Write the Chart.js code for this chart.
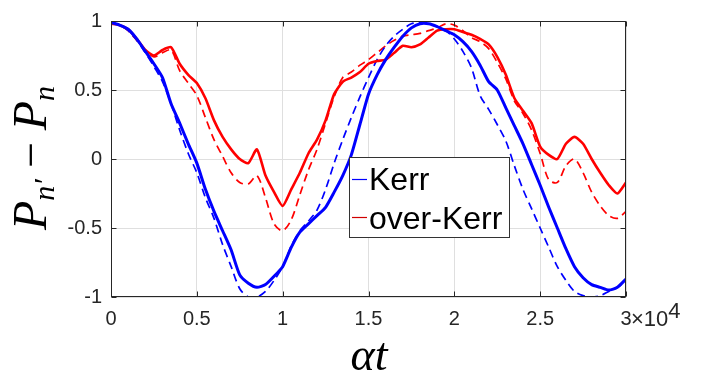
<!DOCTYPE html>
<html lang="en">
<head>
    <meta charset="UTF-8">
    <title>Kerr vs over-Kerr</title>
    <script src="https://cdn.jsdelivr.net/npm/chart.js@4.4.0/dist/chart.umd.min.js"></script>
    <style>
        html, body { margin: 0; padding: 0; background: #fff; }
        #wrap { width: 702px; height: 374px; }
    </style>
</head>
<body>
<div id="wrap"><canvas id="chart"></canvas></div>
<script>
    // time in units of 10^4
    const timeE4 = [
        0, 0.05, 0.1, 0.15, 0.2, 0.25, 0.3, 0.35, 0.4, 0.45,
        0.5, 0.55, 0.6, 0.65, 0.7, 0.75, 0.8, 0.85, 0.9, 0.95,
        1.0, 1.05, 1.1, 1.15, 1.2, 1.25, 1.3, 1.35, 1.4, 1.45,
        1.5, 1.55, 1.6, 1.65, 1.7, 1.75, 1.8, 1.85, 1.9, 1.95,
        2.0, 2.05, 2.1, 2.15, 2.2, 2.25, 2.3, 2.35, 2.4, 2.45,
        2.5, 2.55, 2.6, 2.65, 2.7, 2.75, 2.8, 2.85, 2.9, 2.95, 3.0
    ]
    const kerrSim = [
        0.99, 0.97, 0.94, 0.87, 0.78, 0.69, 0.59, 0.40, 0.26, 0.11,
        -0.03, -0.22, -0.38, -0.52, -0.66, -0.84, -0.90, -0.93, -0.91, -0.85,
        -0.78, -0.64, -0.53, -0.47, -0.41, -0.35, -0.24, -0.12, 0.03, 0.25,
        0.47, 0.61, 0.72, 0.81, 0.89, 0.95, 0.98, 0.98, 0.96, 0.93,
        0.90, 0.85, 0.78, 0.68, 0.56, 0.50, 0.37, 0.24, 0.11, -0.04,
        -0.19, -0.35, -0.50, -0.65, -0.78, -0.86, -0.91, -0.93, -0.95, -0.93, -0.87
    ]
    const kerrTheory = [
        0.99, 0.97, 0.93, 0.86, 0.77, 0.67, 0.56, 0.40, 0.21, 0.04,
        -0.10, -0.28, -0.43, -0.62, -0.78, -0.94, -1.0, -1.0, -0.96, -0.88,
        -0.78, -0.63, -0.52, -0.45, -0.37, -0.22, -0.03, 0.14, 0.30, 0.45,
        0.59, 0.72, 0.82, 0.89, 0.94, 0.98, 0.99, 0.98, 0.96, 0.93,
        0.87, 0.78, 0.66, 0.46, 0.36, 0.25, 0.13, -0.05, -0.22, -0.36,
        -0.50, -0.64, -0.78, -0.88, -0.96, -0.99, -1.0, -0.99, -0.96, -0.93, -0.89
    ]
    const overKerrSim = [
        0.98, 0.97, 0.94, 0.87, 0.79, 0.75, 0.79, 0.81, 0.69, 0.61,
        0.55, 0.44, 0.28, 0.16, 0.07, 0.0, -0.03, 0.07, -0.12, -0.24,
        -0.34, -0.22, -0.10, 0.04, 0.14, 0.28, 0.47, 0.56, 0.59, 0.63,
        0.69, 0.71, 0.72, 0.77, 0.82, 0.81, 0.83, 0.88, 0.93, 0.94,
        0.94, 0.92, 0.90, 0.87, 0.83, 0.74, 0.61, 0.44, 0.35, 0.26,
        0.09, 0.03, 0.0, 0.11, 0.16, 0.11, 0.0, -0.10, -0.19, -0.25, -0.17
    ]
    const overKerrTheory = [
        0.99, 0.97, 0.93, 0.86, 0.79, 0.74, 0.77, 0.79, 0.64, 0.55,
        0.46, 0.30, 0.14, 0.02, -0.10, -0.17, -0.18, -0.12, -0.28, -0.47,
        -0.52, -0.44, -0.26, -0.08, 0.07, 0.26, 0.45, 0.59, 0.63, 0.68,
        0.72, 0.77, 0.82, 0.86, 0.89, 0.90, 0.91, 0.93, 0.95, 0.98,
        0.97, 0.93, 0.88, 0.85, 0.80, 0.70, 0.58, 0.42, 0.33, 0.21,
        0.04, -0.15, -0.17, -0.05, 0.0, -0.10, -0.24, -0.34, -0.41, -0.43, -0.38
    ]
    const xTicks = [0, 0.5, 1, 1.5, 2, 2.5, 3]
    const yTicks = [-1, -0.5, 0, 0.5, 1]

    const BLUE = '#0000ff'
    const RED = '#ff0000'
    const SANS = '"Liberation Sans", Arial, Helvetica, sans-serif'
    const SERIF = '"Liberation Serif", "DejaVu Serif", serif'

    function points(values) {
        return values.map((v, i) => ({x: timeE4[i], y: v}))
    }

    function drawRotatedTitle(ctx, cx, cy) {
        let parts = [
            {t: 'P', f: 'italic 48px ' + SERIF, dy: 0},
            {t: 'n\u2032', f: 'italic 30px ' + SERIF, dy: 8},
            {t: ' \u2212 ', f: '46px ' + SERIF, dy: 0},
            {t: 'P', f: 'italic 48px ' + SERIF, dy: 0},
            {t: 'n', f: 'italic 30px ' + SERIF, dy: 8},
        ]
        ctx.save()
        ctx.translate(cx, cy)
        ctx.rotate(-Math.PI / 2)
        let total = 0
        parts.forEach(p => {
            ctx.font = p.f
            p.w = ctx.measureText(p.t).width
            total += p.w
        })
        let x = -total / 2
        ctx.fillStyle = '#000'
        ctx.textBaseline = 'alphabetic'
        parts.forEach(p => {
            ctx.font = p.f
            ctx.fillText(p.t, x, p.dy)
            x += p.w
        })
        ctx.restore()
    }

    const decor = {
        id: 'decor',
        afterDraw(chart) {
            const {ctx, chartArea: a, scales} = chart
            const L = Math.round(a.left) + 0.5
            const R = Math.round(a.right) - 0.5
            const T = Math.round(a.top) + 0.5
            const B = Math.round(a.bottom) - 0.5
            ctx.save()
            ctx.strokeStyle = '#262626'
            ctx.lineWidth = 1
            ctx.strokeRect(L, T, R - L, B - T)
            ctx.beginPath()
            xTicks.forEach(v => {
                let px = Math.round(scales.x.getPixelForValue(v)) + 0.5
                ctx.moveTo(px, B); ctx.lineTo(px, B - 5)
                ctx.moveTo(px, T); ctx.lineTo(px, T + 5)
            })
            yTicks.forEach(v => {
                let py = Math.round(scales.y.getPixelForValue(v)) + 0.5
                ctx.moveTo(L, py); ctx.lineTo(L + 5, py)
                ctx.moveTo(R, py); ctx.lineTo(R - 5, py)
            })
            ctx.stroke()

            // exponent of x axis
            ctx.fillStyle = '#262626'
            ctx.textBaseline = 'alphabetic'
            ctx.font = '22px ' + SANS
            ctx.fillText('\u00d710', 631, 326)
            let w = ctx.measureText('\u00d710').width
            ctx.fillText('4', 631 + w, 318)

            // legend
            ctx.fillStyle = '#fff'
            ctx.fillRect(349.5, 157.5, 160, 80)
            ctx.strokeStyle = '#333'
            ctx.strokeRect(349.5, 157.5, 160, 80)
            ctx.lineWidth = 1.2
            ctx.strokeStyle = BLUE
            ctx.beginPath(); ctx.moveTo(352, 179.5); ctx.lineTo(367, 179.5); ctx.stroke()
            ctx.strokeStyle = '#d00000'
            ctx.beginPath(); ctx.moveTo(352, 217.5); ctx.lineTo(367, 217.5); ctx.stroke()
            ctx.fillStyle = '#000'
            ctx.font = '32px ' + SANS
            ctx.fillText('Kerr', 369, 190)
            ctx.fillText('over-Kerr', 369, 229)

            // axis titles
            ctx.font = 'italic 46px ' + SERIF
            ctx.textAlign = 'center'
            ctx.fillText('\u03b1t', 369, 370)
            ctx.textAlign = 'left'
            drawRotatedTitle(ctx, 46, 158)
            ctx.restore()
        }
    }

    let ctx = document.getElementById('chart').getContext('2d')
    let chart = new Chart(ctx, {
        type: 'line',
        data: {
            datasets: [
                {label: 'Kerr', data: points(kerrSim), borderColor: BLUE, borderWidth: 3, tension: 0.2},
                {label: 'over-Kerr', data: points(overKerrSim), borderColor: RED, borderWidth: 2.6, tension: 0.2},
                {label: 'Kerr theory', data: points(kerrTheory), borderColor: BLUE, borderWidth: 1.7, borderDash: [8, 5], tension: 0.3},
                {label: 'over-Kerr theory', data: points(overKerrTheory), borderColor: RED, borderWidth: 1.7, borderDash: [8, 5], tension: 0.3},
            ],
        },
        options: {
            responsive: true,
            maintainAspectRatio: false,
            animation: false,
            elements: {point: {radius: 0}},
            layout: {padding: {top: 15, right: 76, left: 0, bottom: 0}},
            plugins: {legend: {display: false}, tooltip: {enabled: false}},
            scales: {
                x: {
                    type: 'linear',
                    min: 0,
                    max: 3,
                    afterFit: s => { s.height = 77 },
                    afterBuildTicks: s => { s.ticks = xTicks.map(v => ({value: v})) },
                    grid: {color: '#dfdfdf', drawTicks: false},
                    border: {display: false},
                    ticks: {
                        padding: 10,
                        color: '#262626',
                        font: {family: SANS, size: 20},
                        maxRotation: 0,
                        callback: v => String(v),
                    },
                },
                y: {
                    min: -1,
                    max: 1,
                    afterFit: s => { s.width = 111 },
                    afterBuildTicks: s => { s.ticks = yTicks.map(v => ({value: v})) },
                    grid: {color: '#dfdfdf', drawTicks: false},
                    border: {display: false},
                    ticks: {
                        padding: 9,
                        color: '#262626',
                        font: {family: SANS, size: 20},
                        callback: v => String(v),
                    },
                },
            },
        },
        plugins: [decor],
    })
</script>
</body>
</html>
